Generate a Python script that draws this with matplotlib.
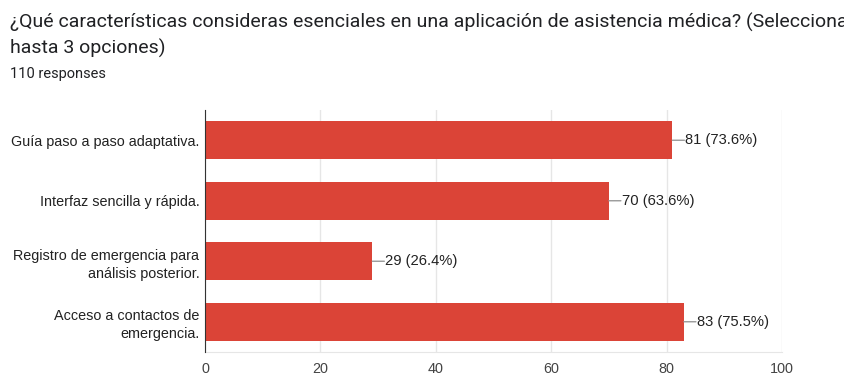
import matplotlib.pyplot as plt

categorias = ['Guía paso a paso adaptativa.',
              'Interfaz sencilla y rápida.',
              'Registro de emergencia para\nanálisis posterior.',
              'Acceso a contactos de\nemergencia.']
respuestas = [81, 70, 29, 83]
porcentajes = [73.6, 63.6, 26.4, 75.5]
total = 110
ticks_x = [0, 20, 40, 60, 80, 100]

fig = plt.figure(figsize=(8.44, 3.78), dpi=100)
fig.text(10 / 844, 1 - 22 / 378, '¿Qué características consideras esenciales en una aplicación de asistencia médica? (Selecciona',
         fontsize=14, family='Roboto', color='#202124', va='center')
fig.text(10 / 844, 1 - 48 / 378, 'hasta 3 opciones)', fontsize=14, family='Roboto', color='#202124', va='center')
fig.text(10 / 844, 1 - 74 / 378, f'{total} responses', fontsize=10.5, family='Roboto', color='#202124', va='center')

ax = fig.add_axes([205 / 844, 1 - 352 / 378, 577 / 844, 242 / 378])
y = range(len(categorias))
ax.barh(y, respuestas, height=0.63, color='#db4437', zorder=3)
ax.set_xlim(0, 100)
ax.set_ylim(3.5, -0.5)
ax.set_xticks(ticks_x)
ax.set_yticks(list(y))
ax.set_yticklabels(categorias, fontsize=10.4, family='Liberation Sans', color='#222222',
                   multialignment='right', linespacing=1.35)
ax.tick_params(axis='x', labelsize=10.4, colors='#444444', length=0, pad=7)
ax.tick_params(axis='y', length=0, pad=4)
for lbl in ax.get_xticklabels():
    lbl.set_family('Liberation Sans')
ax.grid(axis='x', color='#e6e6e6', linewidth=1, zorder=0)
for s in ['top', 'right']:
    ax.spines[s].set_visible(False)
ax.spines['bottom'].set_color('#e6e6e6')
ax.spines['left'].set_color('#333333')
ax.spines['left'].set_zorder(4)

# etiquetas con línea guía
for i, (v, p) in enumerate(zip(respuestas, porcentajes)):
    ax.annotate('', xy=(v, i), xytext=(12, 0), textcoords='offset pixels',
                arrowprops=dict(arrowstyle='-', color='#999999', lw=1, shrinkA=0, shrinkB=0))
    ax.annotate(f'{v} ({p}%)', xy=(v, i), xytext=(13, 0), textcoords='offset pixels',
                va='center', ha='left', fontsize=10.6, family='Liberation Sans', color='#222222')

fig.savefig('out.png', dpi=100)
